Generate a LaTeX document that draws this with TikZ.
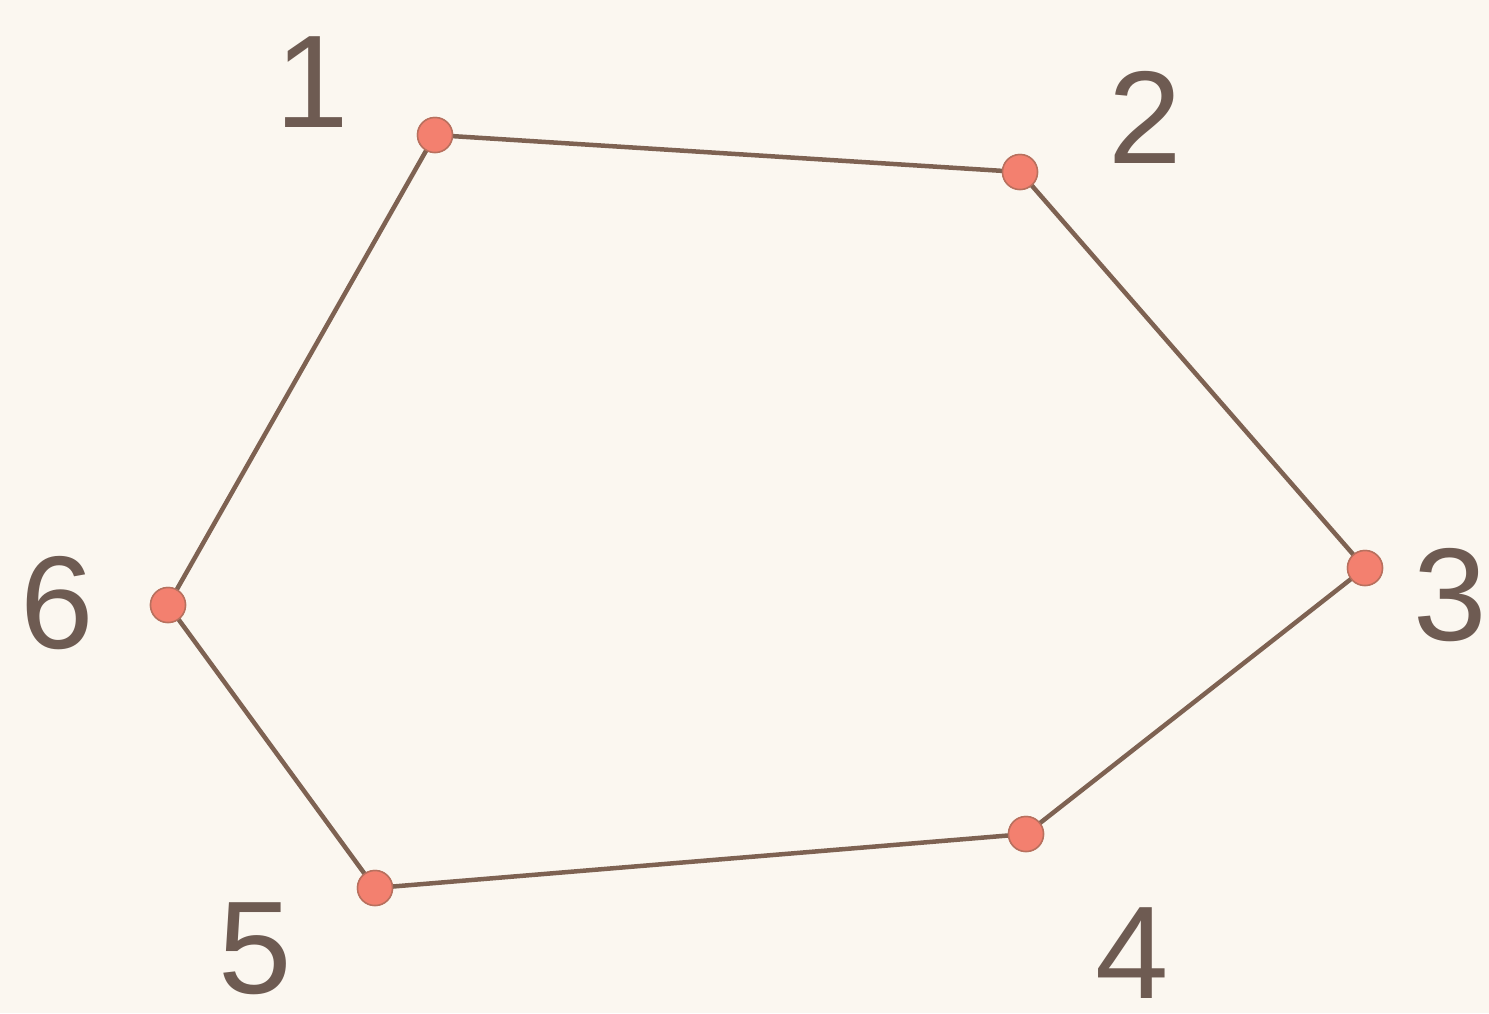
\documentclass[tikz,border=0pt]{standalone}
\usepackage{fontspec}
\setmainfont{Liberation Sans}
\definecolor{bg}{HTML}{FBF7F0}
\definecolor{dotfill}{HTML}{F3806F}
\definecolor{dotedge}{HTML}{B8705E}
\definecolor{edgecol}{HTML}{7E6252}
\definecolor{txt}{HTML}{6E5B52}
\begin{document}
\begin{tikzpicture}[x=1pt,y=-1pt,
  vtx/.style={circle,fill=dotfill,draw=dotedge,line width=1.5pt,minimum size=35pt,inner sep=0pt},
  lbl/.style={text=txt,inner sep=0pt,font=\fontsize{132}{140}\selectfont},
  edge/.style={draw=edgecol,line width=4.5pt}]
\fill[bg] (0,0) rectangle (1489,1013);
\useasboundingbox (0,0) rectangle (1489,1013);
\node[vtx] (v1) at (435,135) {};
\node[vtx] (v2) at (1020,172) {};
\node[vtx] (v3) at (1365,568) {};
\node[vtx] (v4) at (1026,834) {};
\node[vtx] (v5) at (375,888) {};
\node[vtx] (v6) at (168,605) {};
\draw[edge] (v1.center) -- (v2.center) -- (v3.center) -- (v4.center) -- (v5.center) -- (v6.center) -- cycle;
\foreach \i in {1,...,6} {
  \node[vtx] at (v\i) {};
}
\node[lbl] (l1) at (312,82) {1};
\node[lbl] (l2) at (1145,117) {2};
\node[lbl] (l3) at (1450,595) {3};
\node[lbl] (l4) at (1132,953) {4};
\node[lbl] (l5) at (255,949) {5};
\node[lbl] (l6) at (57,603) {6};
\end{tikzpicture}
\end{document}
